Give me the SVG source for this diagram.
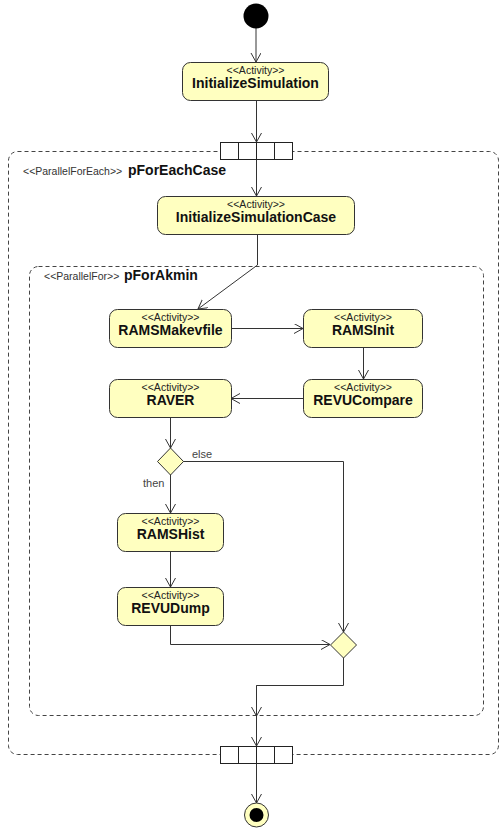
<svg xmlns="http://www.w3.org/2000/svg" width="500" height="832" viewBox="0 0 500 832">
  <style>
    .act { fill: #ffffc0; stroke: #333; stroke-width: 1; }
    .st { font-family: "Liberation Sans", Arial, sans-serif; font-size: 10.5px; fill: #222; text-anchor: middle; }
    .nm { font-family: "Liberation Sans", Arial, sans-serif; font-size: 14px; font-weight: bold; fill: #111; text-anchor: middle; }
    .rst { font-family: "Liberation Sans", Arial, sans-serif; font-size: 10.5px; fill: #333; }
    .rnm { font-family: "Liberation Sans", Arial, sans-serif; font-size: 14px; font-weight: bold; fill: #111; }
    .guard { font-family: "Liberation Sans", Arial, sans-serif; font-size: 11px; fill: #444; }
    .region { fill: none; stroke: #444; stroke-width: 1; stroke-dasharray: 4 3; }
    .edge { fill: none; stroke: #333; stroke-width: 1; marker-end: url(#arrow); }
    .line { fill: none; stroke: #333; stroke-width: 1; }
    .exp { fill: #fff; stroke: #222; stroke-width: 1; }
  </style>
  <defs>
    <marker id="arrow" markerUnits="userSpaceOnUse" markerWidth="12" markerHeight="12" refX="9" refY="5" orient="auto">
      <path d="M0,0 L9,5 L0,10" fill="none" stroke="#333" stroke-width="1"/>
    </marker>
  </defs>

  <!-- regions -->
  <g id="pForEachCase">
    <rect class="region" x="8.5" y="151.5" width="490" height="603" rx="9"/>
    <text class="rst" x="23" y="175">&lt;&lt;ParallelForEach&gt;&gt;</text>
    <text class="rnm" x="128" y="175">pForEachCase</text>
  </g>
  <g id="pForAkmin">
    <rect class="region" x="29.5" y="266.5" width="454" height="449" rx="9"/>
    <text class="rst" x="44" y="280">&lt;&lt;ParallelFor&gt;&gt;</text>
    <text class="rnm" x="124" y="280">pForAkmin</text>
  </g>

  <!-- connectors -->
  <g id="connectors">
    <path class="edge" d="M256,28 V62"/>
    <path class="edge" d="M256.5,100 V142"/>
    <path class="edge" d="M256.5,159 V196"/>
    <path class="edge" d="M257.5,234 V265 L198,309"/>
    <path class="edge" d="M231,328.5 H303"/>
    <path class="edge" d="M363.5,348 V379"/>
    <path class="edge" d="M303,398.5 H231"/>
    <path class="edge" d="M170.5,418 V448"/>
    <path class="edge" d="M183,461.5 H343.5 V632"/>
    <path class="edge" d="M170.5,474 V513"/>
    <path class="edge" d="M170.5,552 V587"/>
    <path class="edge" d="M170.5,626 V644.5 H330"/>
    <path class="line" d="M343.5,658 V685.5 H256.5 V716"/>
    <path class="edge" d="M256.5,685.5 V716"/>
    <path class="edge" d="M256.5,716 V746"/>
    <path class="edge" d="M256.5,763 V803"/>
    <text class="guard" x="192" y="458">else</text>
    <text class="guard" x="143" y="487">then</text>
  </g>

  <!-- nodes -->
  <g id="initial">
    <circle cx="256" cy="16" r="12.5" fill="#000"/>
  </g>
  <g id="InitializeSimulation">
    <rect class="act" x="182.5" y="62.5" width="146" height="38" rx="8"/>
    <text class="st" x="255.5" y="74">&lt;&lt;Activity&gt;&gt;</text>
    <text class="nm" x="255.5" y="88">InitializeSimulation</text>
  </g>
  <g id="expansionTop">
    <rect class="exp" x="220.5" y="142.5" width="18" height="17"/>
    <rect class="exp" x="238.5" y="142.5" width="18" height="17"/>
    <rect class="exp" x="256.5" y="142.5" width="18" height="17"/>
    <rect class="exp" x="274.5" y="142.5" width="18" height="17"/>
  </g>
  <g id="InitializeSimulationCase">
    <rect class="act" x="157.5" y="196.5" width="197" height="38" rx="8"/>
    <text class="st" x="256" y="208">&lt;&lt;Activity&gt;&gt;</text>
    <text class="nm" x="256" y="222">InitializeSimulationCase</text>
  </g>
  <g id="RAMSMakevfile">
    <rect class="act" x="109.5" y="309.5" width="122" height="38" rx="8"/>
    <text class="st" x="170.5" y="321">&lt;&lt;Activity&gt;&gt;</text>
    <text class="nm" x="170.5" y="335">RAMSMakevfile</text>
  </g>
  <g id="RAMSInit">
    <rect class="act" x="303.5" y="309.5" width="119" height="38" rx="8"/>
    <text class="st" x="363" y="321">&lt;&lt;Activity&gt;&gt;</text>
    <text class="nm" x="363" y="335">RAMSInit</text>
  </g>
  <g id="REVUCompare">
    <rect class="act" x="303.5" y="379.5" width="119" height="38" rx="8"/>
    <text class="st" x="363" y="391">&lt;&lt;Activity&gt;&gt;</text>
    <text class="nm" x="363" y="405">REVUCompare</text>
  </g>
  <g id="RAVER">
    <rect class="act" x="109.5" y="379.5" width="122" height="38" rx="8"/>
    <text class="st" x="170.5" y="391">&lt;&lt;Activity&gt;&gt;</text>
    <text class="nm" x="170.5" y="405">RAVER</text>
  </g>
  <g id="decision">
    <path class="act" d="M170.5,448 L183.5,461.5 L170.5,475 L157.5,461.5 Z"/>
  </g>
  <g id="RAMSHist">
    <rect class="act" x="117.5" y="513.5" width="106" height="38" rx="8"/>
    <text class="st" x="170.5" y="525">&lt;&lt;Activity&gt;&gt;</text>
    <text class="nm" x="170.5" y="539">RAMSHist</text>
  </g>
  <g id="REVUDump">
    <rect class="act" x="117.5" y="587.5" width="106" height="38" rx="8"/>
    <text class="st" x="170.5" y="599">&lt;&lt;Activity&gt;&gt;</text>
    <text class="nm" x="170.5" y="613">REVUDump</text>
  </g>
  <g id="merge">
    <path class="act" d="M343.5,632 L356.5,645 L343.5,658 L330.5,645 Z"/>
  </g>
  <g id="expansionBottom">
    <rect class="exp" x="220.5" y="746.5" width="18" height="17"/>
    <rect class="exp" x="238.5" y="746.5" width="18" height="17"/>
    <rect class="exp" x="256.5" y="746.5" width="18" height="17"/>
    <rect class="exp" x="274.5" y="746.5" width="18" height="17"/>
  </g>
  <g id="final">
    <circle cx="256.5" cy="815" r="12" fill="#ffffc0" stroke="#333" stroke-width="1"/>
    <circle cx="256.5" cy="815" r="7" fill="#000"/>
  </g>
</svg>
